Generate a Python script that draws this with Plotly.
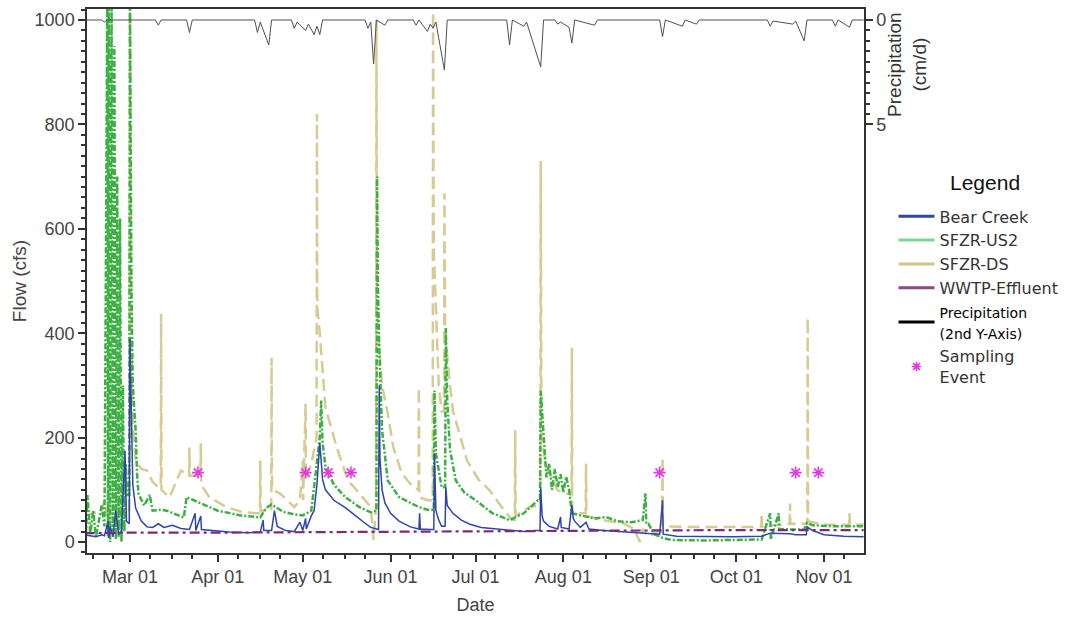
import pandas as pd
import plotly.graph_objects as go

YEAR = "2013-"

# ---------------- data ----------------
bear_dates = ["02-13","02-15","02-17","02-19","02-20","02-21 06:00","02-21 12:00","02-22","02-23","02-24","02-25",
              "02-26","02-27 06:00","02-27 18:00","02-28 18:00","03-01","03-01 12:00","03-02","03-03","03-05",
              "03-07","03-09","03-11","03-13","03-16","03-19","03-22","03-24","03-24 06:00","03-26",
              "03-26 06:00","03-30","04-05","04-12","04-16","04-17","04-17 06:00","04-20","04-21","04-22",
              "04-25","04-28","04-30","05-01","05-02","05-02 06:00","05-04","05-05","05-06","05-07",
              "05-07 12:00","05-08","05-09","05-12","05-16","05-20","05-23","05-25","05-27 18:00","05-28",
              "05-28 06:00","05-29","05-30","06-01","06-04","06-08","06-11","06-11 06:00","06-11 12:00","06-15",
              "06-16 06:00","06-16 12:00","06-17","06-18","06-19","06-20 06:00","06-20 12:00","06-21","06-23",
              "06-26","06-29","07-03","07-08","07-14","07-18","07-22","07-23 18:00","07-24","07-24 12:00","07-25",
              "07-27","07-30","07-31","07-31 06:00","08-03","08-04","08-04 12:00","08-05","08-07","08-09",
              "08-10","08-15","08-20","08-26","08-31","09-04","09-05","09-05 06:00","09-10","09-20","09-30",
              "10-10","10-13","10-20","10-22","10-25 18:00","10-26","10-28","11-01","11-08","11-15"]
bear_vals = [14,12,10,14,12,40,8,30,10,60,15,
             20,175,40,35,390,200,110,65,40,
             29,28,35,28,32,26,24,55,22,50,
             24,22,19,18,19,42,22,22,60,30,
             22,20,38,22,45,25,50,60,110,190,
             150,120,100,80,66,48,36,28,24,300,
             160,100,75,55,40,29,25,55,25,24,
             24,170,60,42,30,30,105,70,55,
             42,34,28,25,22,20,22,22,105,50,40,
             30,25,48,28,25,71,45,40,28,38,
             25,22,20,19,16,15,80,15,11,10,10,
             11,17,16,14,14,29,22,14,11,10]

us2_dates = ["02-13","02-13 12:00","02-14","02-15","02-16","02-17","02-18","02-19","02-20","02-21",
             "02-21 06:00","02-21 12:00","02-22","02-22 12:00","02-23","02-23 12:00","02-24","02-24 12:00",
             "02-25","02-25 12:00","02-26","02-26 12:00","02-27","02-27 12:00","02-28","02-28 18:00","03-01",
             "03-01 12:00","03-02","03-03","03-03 12:00","03-04","03-06","03-08","03-09","03-12","03-14",
             "03-18","03-20","03-21","03-25","04-01","04-09","04-16","04-18","04-20","04-24","04-28","05-01",
             "05-04","05-05","05-06","05-07","05-07 12:00","05-08","05-09","05-12","05-16","05-21","05-25",
             "05-27","05-27 06:00","05-27 12:00","05-28","05-29","05-31","06-04","06-11","06-14","06-16 06:00",
             "06-16 12:00","06-17","06-19","06-20 06:00","06-20 12:00","06-21","06-22","06-24","06-27","07-01",
             "07-07","07-13","07-18","07-23","07-23 18:00","07-24","07-25","07-26","07-27","07-28","07-29",
             "07-30","07-31","08-01","08-02","08-03","08-04","08-08","08-12","08-16","08-20","08-25","08-29",
             "08-30","08-30 06:00","08-31","09-02","09-05","09-08","09-20","10-01","10-10","10-13",
             "10-13 06:00","10-16","10-16 06:00","10-20","10-25","10-26","10-28","11-05","11-15"]
us2_vals = [120,20,90,15,60,10,40,70,30,1050,
            10,1050,0,1050,20,950,5,700,
            10,620,0,300,20,150,90,90,1050,
            500,300,214,130,93,70,90,60,62,60,
            51,47,86,76,60,51,47,65,72,58,53,51,
            60,105,150,200,271,190,145,110,86,67,57,
            60,700,500,372,214,118,86,67,62,62,
            290,170,105,105,410,271,176,118,95,80,
            55,42,55,80,80,290,195,124,150,100,140,
            105,130,95,125,100,55,50,45,48,40,38,42,
            93,35,35,15,8,4,3,4,5,55,
            5,55,25,24,24,37,32,30,30]

ds_dates = ["02-13","02-16","02-19","02-20","02-21","02-24","02-27","02-28 18:00","03-01","03-01 12:00",
            "03-02","03-03","03-05","03-07","03-09","03-11","03-11 21:00","03-12","03-12 03:00","03-15",
            "03-19","03-21 21:00","03-22","03-22 03:00","03-25 21:00","03-26","03-26 03:00","03-29","04-04",
            "04-10","04-15","04-15 21:00","04-16","04-16 03:00","04-19 21:00","04-20","04-20 03:00","04-23",
            "04-28","04-30","05-01","05-01 03:00","05-02","05-02 03:00","05-04","05-05 21:00","05-06",
            "05-06 03:00","05-07","05-09","05-13","05-17","05-21","05-25","05-26","05-26 21:00","05-27",
            "05-27 06:00","05-28","05-29","05-31","06-02","06-05","06-09","06-10 21:00","06-11","06-11 03:00",
            "06-14","06-15 21:00","06-16","06-16 06:00","06-17","06-18","06-19","06-19 21:00","06-20",
            "06-20 06:00","06-22","06-23","06-28","07-02","07-06","07-11","07-14","07-14 21:00","07-15",
            "07-15 03:00","07-20","07-23","07-23 21:00","07-24","07-24 06:00","07-26","07-30","08-03 21:00",
            "08-04","08-04 03:00","08-06","08-08 21:00","08-09","08-09 03:00","08-15","08-22","08-26","08-28",
            "08-29","08-31","09-03","09-04 21:00","09-05","09-05 03:00","09-15","09-30","10-09 21:00","10-10",
            "10-10 03:00","10-19 21:00","10-20","10-20 03:00","10-26 03:00","10-26 06:00","10-26 09:00","11-01",
            "11-09 21:00","11-10","11-10 03:00","11-15"]
ds_vals = [50,55,60,80,50,70,60,60,1050,400,
           220,156,140,137,115,105,105,437,100,86,
           137,127,181,127,127,189,110,86,67,
           57,55,55,156,60,60,353,100,93,
           67,80,156,80,265,120,150,200,820,
           450,400,258,181,118,93,67,4,67,1000,
           450,372,300,246,181,131,105,100,296,86,
           80,80,1050,560,450,300,250,250,668,
           400,300,252,156,120,99,61,42,42,214,
           50,67,70,70,730,200,143,99,90,
           372,60,55,55,150,50,42,36,25,0,
           25,10,20,20,162,30,29,29,29,55,
           30,35,74,35,35,430,40,33,
           33,55,33,33]

wwtp_dates = ["02-13","03-01","04-01","05-01","06-01","07-01","08-01","09-01","10-01","11-01","11-15"]
wwtp_vals = [17,18,18,19,20,21,21,22,23,23,23]

precip_dates = ["02-13","02-19","02-20","02-21","03-10","03-11","03-12","03-21","03-22","03-23",
                "04-14","04-15","04-16","04-19","04-20","04-27","04-28","04-29","05-02","05-03","05-05",
                "05-06","05-07","05-08","05-23","05-24","05-25","05-26","05-27","05-30","05-31","06-09",
                "06-10","06-11","06-14","06-15","06-16","06-17","06-20","06-21","07-12","07-13","07-14",
                "07-18","07-19","07-24","07-25","07-29","07-30","07-31","08-03","08-04","08-05","08-12",
                "08-13","09-04","09-05","09-06","09-12","09-13","09-17","09-18","10-12","10-13","10-14",
                "10-21","10-22","10-25","10-26","11-04","11-05","11-06","11-10","11-11","11-15"]
precip_vals = [0,0,0.1,0,0,0.25,0,0,0.6,0,
               0,0.6,0.1,1.2,0,0,0.4,0.1,0.5,0.2,0.7,
               0.3,0.7,0,0,0.4,0.1,2.1,0,0.25,0,0,
               0.25,0,0.55,0.2,0.4,0.1,2.4,0,0,1.2,0,
               0.3,0.1,2.25,0,0,0.2,0.1,0.35,1.1,0,0.25,
               0,0,0.8,0,0.3,0,0.2,0,0,0.3,0.05,
               0.2,0.05,1.0,0,0,0.3,0,0.35,0,0]

sample_dates = ["03-25","05-02","05-10","05-18","09-04","10-22","10-30"]
sample_vals = [133,133,133,133,133,133,133]

tick_months = ["03-01","04-01","05-01","06-01","07-01","08-01","09-01","10-01","11-01"]
tick_labels = ["Mar 01","Apr 01","May 01","Jun 01","Jul 01","Aug 01","Sep 01","Oct 01","Nov 01"]


def d(lst):
    return pd.to_datetime([YEAR + s for s in lst], format="mixed")

minor_x = []
for m in ["02","03","04","05","06","07","08","09","10","11"]:
    for day in ["01","08","16","23"]:
        minor_x.append(m + "-" + day)
minor_x = [s for s in minor_x if "02-13" <= s <= "11-15"]

C_BLUE = "#2f45a8"
C_GREEN = "#3cb043"
C_TAN = "#d6cb92"
C_PURPLE = "#7e2a76"
C_PRE = "#505050"
C_MAG = "#e33be3"

FONT = "Liberation Sans, Arial, sans-serif"
LFONT = "DejaVu Sans, sans-serif"

fig = go.Figure()

fig.add_trace(go.Scatter(x=d(ds_dates), y=ds_vals, mode="lines", showlegend=False,
                         line=dict(color=C_TAN, width=2.5, dash="12px,6px")))
fig.add_trace(go.Scatter(x=d(us2_dates), y=us2_vals, mode="lines", showlegend=False,
                         line=dict(color=C_GREEN, width=2.5, dash="6px,2px,2px,2px")))
fig.add_trace(go.Scatter(x=d(bear_dates), y=bear_vals, mode="lines", showlegend=False,
                         line=dict(color=C_BLUE, width=1.5)))
fig.add_trace(go.Scatter(x=d(wwtp_dates), y=wwtp_vals, mode="lines", showlegend=False,
                         line=dict(color=C_PURPLE, width=2.2, dash="10px,4px,3px,4px")))
fig.add_trace(go.Scatter(x=d(precip_dates), y=precip_vals, mode="lines", showlegend=False,
                         yaxis="y2", line=dict(color=C_PRE, width=1)))
fig.add_trace(go.Scatter(x=d(sample_dates), y=sample_vals, mode="markers", showlegend=False,
                         marker=dict(symbol="asterisk", size=10, line=dict(color=C_MAG, width=1.6))))

# legend entries
leg = [("Bear Creek", C_BLUE), ("SFZR-US2", "#7ed889"), ("SFZR-DS", "#cfc585"),
       ("WWTP-Effluent", "#8a4a8a")]
for name, col in leg:
    fig.add_trace(go.Scatter(x=[None], y=[None], mode="lines", name=name,
                             line=dict(color=col, width=3)))
fig.add_trace(go.Scatter(x=[None], y=[None], mode="lines",
                         name="<span style='font-size:14px;color:#000'>Precipitation<br>(2nd Y-Axis)</span>",
                         line=dict(color="#000", width=3)))
fig.add_trace(go.Scatter(x=[None], y=[None], mode="markers", name="Sampling<br>Event",
                         marker=dict(symbol="asterisk", size=8, line=dict(color=C_MAG, width=1.6))))

fig.update_layout(
    width=1081, height=620,
    margin=dict(l=87, r=217, t=7, b=67),
    paper_bgcolor="white", plot_bgcolor="white",
    font=dict(family=FONT, size=18, color="#3a3a3a"),
    xaxis=dict(range=[pd.Timestamp("2013-02-13 20:00"), pd.Timestamp("2013-11-15 03:00")],
               tickvals=d(tick_months), ticktext=tick_labels,
               ticks="outside", ticklen=7, tickcolor="#333", tickwidth=1.5,
               showline=True, linecolor="#333", linewidth=1.5, mirror=True,
               showgrid=False, zeroline=False,
               minor=dict(tickvals=d(minor_x), ticks="outside", ticklen=4, tickcolor="#333"),
               title=dict(text="Date", font=dict(size=18, color="#444"), standoff=12),
               tickfont=dict(size=18, color="#444")),
    yaxis=dict(range=[-21, 1021], tickvals=[0, 200, 400, 600, 800, 1000],
               ticks="outside", ticklen=7, tickcolor="#333", tickwidth=1.5,
               showline=True, linecolor="#333", linewidth=1.5,
               showgrid=False, zeroline=False,
               minor=dict(dtick=20, ticks="outside", ticklen=4, tickcolor="#333"),
               title=dict(text="Flow (cfs)", font=dict(size=19, color="#444"), standoff=3),
               tickfont=dict(size=18, color="#444")),
    yaxis2=dict(overlaying="y", side="right", range=[25.52, -0.525],
                tickvals=[0, 5], ticks="outside", ticklen=7, tickcolor="#333", tickwidth=1.5,
                showline=True, linecolor="#333", linewidth=1.5,
                showgrid=False, zeroline=False,
                minor=dict(tickvals=[0.5,1,1.5,2,2.5,3,3.5,4,4.5], ticks="outside", ticklen=4,
                           tickcolor="#333"),
                tickfont=dict(size=18, color="#444")),
    legend=dict(x=1.038, y=0.650, xanchor="left", yanchor="top",
                font=dict(size=16, color="#333", family=LFONT),
                bgcolor="rgba(0,0,0,0)", itemwidth=36, tracegroupgap=0),
    annotations=[dict(text="Precipitation<br>(cm/d)", textangle=-90, xref="paper", yref="paper",
                      x=1.0553, y=0.899, xanchor="center", yanchor="middle", showarrow=False,
                      font=dict(size=19, color="#333")),
                 dict(text="Legend", xref="paper", yref="paper", x=1.156, y=0.681,
                      xanchor="center", yanchor="middle", showarrow=False,
                      font=dict(size=21, color="#111", family=FONT))],
)

fig.write_html("out.html")
